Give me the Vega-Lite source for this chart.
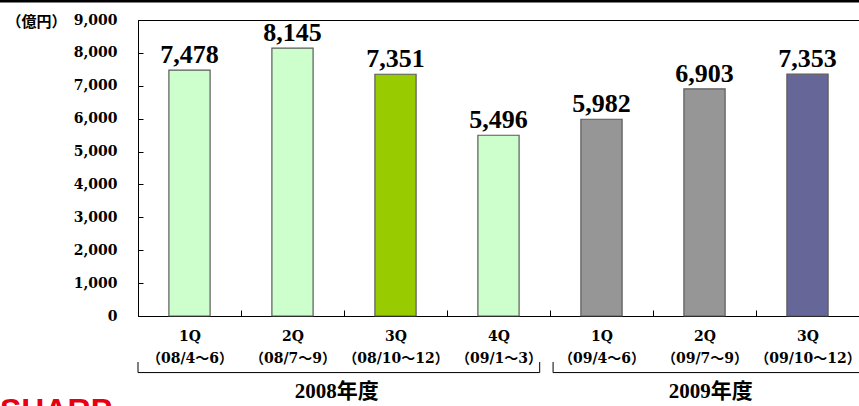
{
  "$schema": "https://vega.github.io/schema/vega-lite/v6.json",
  "width": 721,
  "height": 296,
  "autosize": "none",
  "padding": {"left": 138, "top": 20, "right": 0, "bottom": 90},
  "config": {
    "view": {"stroke": "#000", "strokeWidth": 1},
    "font": "Liberation Serif",
    "axisY": {"labelFontSize": 14, "labelFontWeight": "bold", "labelColor": "#000", "labelFont": "DejaVu Serif", "grid": false, "domainColor": "#000", "tickColor": "#000"},
    "axisX": {"labelFontSize": 14, "labelFontWeight": "bold", "labelColor": "#000", "labelFont": "'DejaVu Serif','Noto Sans CJK TC'", "domainColor": "#000", "tickColor": "#000"}
  },
  "datasets": {
    "sales": [
      {"quarter": "1Q（08/4〜6）", "fy": "2008年度", "group": "FY2008", "sales": 7478},
      {"quarter": "2Q（08/7〜9）", "fy": "2008年度", "group": "FY2008", "sales": 8145},
      {"quarter": "3Q（08/10〜12）", "fy": "2008年度", "group": "FY2008 3Q", "sales": 7351},
      {"quarter": "4Q（09/1〜3）", "fy": "2008年度", "group": "FY2008", "sales": 5496},
      {"quarter": "1Q（09/4〜6）", "fy": "2009年度", "group": "FY2009", "sales": 5982},
      {"quarter": "2Q（09/7〜9）", "fy": "2009年度", "group": "FY2009", "sales": 6903},
      {"quarter": "3Q（09/10〜12）", "fy": "2009年度", "group": "FY2009 3Q", "sales": 7353}
    ],
    "years": [
      {"fy": "2008年度", "from": 0, "to": 3.9, "mid": 1.93},
      {"fy": "2009年度", "from": 4.03, "to": 7.05, "mid": 5.56}
    ],
    "logo": [{"name": "SHARP"}]
  },
  "layer": [
    {
      "layer": [
        {
          "data": {"name": "sales"},
          "mark": {"type": "bar", "width": {"band": 0.4}, "stroke": "#5a5a5a", "strokeWidth": 1.2},
          "encoding": {
            "x": {
              "field": "quarter", "type": "nominal", "sort": null,
              "scale": {"paddingInner": 0, "paddingOuter": 0},
              "axis": {
                "title": null,
                "labelExpr": "datum.value ? [substring(datum.value,0,2), substring(datum.value,2)] : ''",
                "labelAngle": 0,
                "labelFontSize": 14,
                "labelLineHeight": 22,
                "labelBaseline": "top",
                "labelPadding": 19,
                "tickBand": "extent",
                "tickSize": -6
              }
            },
            "y": {
              "field": "sales", "type": "quantitative",
              "scale": {"domain": [0, 9000], "nice": false},
              "axis": {
                "tickCount": 9,
                "labelExpr": "format(datum.value, ',')",
                "labelFontSize": 14,
                "labelPadding": 26,
                "tickSize": -5,
                "title": "（億円）",
                "titleAngle": 0,
                "titleX": -132,
                "titleY": 1,
                "titleAlign": "left",
                "titleBaseline": "middle",
                "titleFont": "Noto Sans CJK JP",
                "titleFontSize": 15,
                "titleFontWeight": "bold",
                "titleColor": "#000"
              }
            },
            "color": {
              "field": "group", "type": "nominal",
              "scale": {"domain": ["FY2008", "FY2008 3Q", "FY2009", "FY2009 3Q"], "range": ["#CCFFCC", "#99CC00", "#969696", "#666699"]},
              "legend": null
            }
          }
        },
        {
          "data": {"name": "sales"},
          "mark": {"type": "text", "fontSize": 26, "fontWeight": "bold", "font": "Liberation Serif", "dy": -7, "baseline": "alphabetic", "color": "#000"},
          "encoding": {
            "x": {"field": "quarter", "type": "nominal", "sort": null},
            "y": {"field": "sales", "type": "quantitative"},
            "text": {"field": "sales", "type": "quantitative", "format": ","}
          }
        }
      ]
    },
    {
      "layer": [
        {
          "data": {"name": "years"},
          "mark": {"type": "rule", "clip": false, "color": "#000", "strokeWidth": 1},
          "encoding": {
            "x": {"field": "from", "type": "quantitative", "scale": {"domain": [0, 7], "nice": false, "zero": false}, "axis": null},
            "x2": {"field": "to"},
            "y": {"datum": -1720, "type": "quantitative", "scale": {"domain": [0, 9000], "nice": false, "zero": false}, "axis": null}
          }
        },
        {
          "data": {"name": "years"},
          "mark": {"type": "rule", "clip": false, "color": "#000", "strokeWidth": 1},
          "encoding": {
            "x": {"field": "from", "type": "quantitative"},
            "y": {"datum": -1400, "type": "quantitative"},
            "y2": {"datum": -1720}
          }
        },
        {
          "data": {"name": "years"},
          "mark": {"type": "rule", "clip": false, "color": "#000", "strokeWidth": 1},
          "encoding": {
            "x": {"field": "to", "type": "quantitative"},
            "y": {"datum": -1400, "type": "quantitative"},
            "y2": {"datum": -1720}
          }
        },
        {
          "data": {"name": "years"},
          "mark": {"type": "text", "clip": false, "fontSize": 21, "fontWeight": "bold", "font": "'Liberation Serif','Noto Sans CJK JP'", "baseline": "middle", "color": "#000"},
          "encoding": {
            "x": {"field": "mid", "type": "quantitative"},
            "y": {"datum": -2311, "type": "quantitative"},
            "text": {"field": "fy"}
          }
        },
        {
          "data": {"name": "logo"},
          "mark": {"type": "rule", "clip": false, "color": "#000", "strokeWidth": 3},
          "encoding": {
            "x": {"datum": -1.34},
            "x2": {"datum": 7.1},
            "y": {"datum": 9580, "type": "quantitative"}
          }
        },
        {
          "data": {"name": "logo"},
          "mark": {"type": "text", "clip": false, "fontSize": 32, "fontWeight": "bold", "font": "Liberation Sans", "align": "left", "baseline": "alphabetic", "color": "#E60012"},
          "encoding": {
            "x": {"datum": -1.34},
            "y": {"datum": -3192, "type": "quantitative"},
            "text": {"field": "name"}
          }
        }
      ]
    }
  ],
  "resolve": {"scale": {"x": "independent", "y": "independent"}}
}
